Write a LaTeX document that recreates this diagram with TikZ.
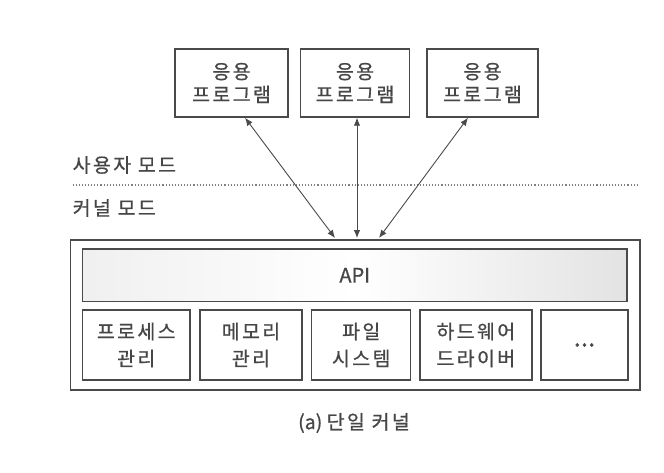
\documentclass[tikz,border=0pt]{standalone}
\usepackage{fontspec}
\setmainfont{Noto Sans CJK KR}[FakeBold=0.8]
\newfontfamily\kfont{Noto Sans CJK KR}[LetterSpace=12, FakeBold=0.8]
\usetikzlibrary{arrows.meta}
\definecolor{linegray}{HTML}{4A4A4A}
\definecolor{textgray}{HTML}{464646}
\begin{document}
\begin{tikzpicture}[x=1pt, y=-1pt,
    appbox/.style={draw=linegray, line width=1.4pt, minimum width=#1, minimum height=68pt,
      inner sep=0pt, align=center, text=textgray, font=\kfont\fontsize{19.5}{23}\selectfont},
    modbox/.style={draw=linegray, line width=1.4pt, minimum width=#1, minimum height=70pt,
      inner sep=0pt, align=center, text=textgray, font=\kfont\fontsize{19.5}{27}\selectfont},
    modelabel/.style={anchor=west, inner sep=0pt, text=textgray, font=\kfont\fontsize{19.5}{20}\selectfont},
    dblarrow/.style={draw=linegray, line width=.9pt, {Latex[length=8pt,width=6.5pt]}-{Latex[length=8pt,width=6.5pt]}}]
  \useasboundingbox (0,0) rectangle (664,472);

  %% application programs
  \node[appbox=113pt] (app1) at (231.5,83) {응용\\프로그램};
  \node[appbox=109pt] (app2) at (355,83) {응용\\프로그램};
  \node[appbox=111pt] (app3) at (482.5,83) {응용\\프로그램};

  %% mode boundary
  \node[modelabel] (user) at (72.5,165) {사용자 모드};
  \node[modelabel] (kmode) at (72.5,208) {커널 모드};
  \draw[linegray!70, line width=1.1pt, dotted] (72.5,185) to (637,185);

  %% kernel
  \node[draw=linegray, line width=1.6pt, minimum width=569.5pt, minimum height=150pt, inner sep=0pt]
    (kernel) at (355.25,315) {};
  \node[draw=linegray, line width=1.4pt, left color=gray!12, right color=gray!22, middle color=white,
    minimum width=544.5pt, minimum height=52.5pt, inner sep=0pt, text=textgray,
    font=\fontsize{20}{22}\selectfont] (api) at (354.75,275.25) {API};

    \node[modbox=107.5pt] (proc) at (136.25,345) {프로세스\\관리};
    \node[modbox=102pt] (mem) at (251,345) {메모리\\관리};
    \node[modbox=99pt] (fs) at (361.25,345) {파일\\시스템};
    \node[modbox=112pt] (hw) at (475.85,345) {하드웨어\\드라이버};
    \node[modbox=87pt, font=\fontsize{26}{20}\selectfont] (etc) at (584.5,345) {...};

  %% system calls
  \coordinate (k1) at (335,238);
  \coordinate (k2) at (357,238);
  \coordinate (k3) at (379,238);
  \draw[dblarrow] ([xshift=13.5pt]app1.south) to (k1);
  \draw[dblarrow] ([xshift=2pt]app2.south) to (k2);
  \draw[dblarrow] ([xshift=-14.5pt]app3.south) to (k3);

  \node[text=textgray, font=\fontsize{19.5}{20}\selectfont] (cap) at (354,423) {(a) {\kfont 단일 커널}};
\end{tikzpicture}
\end{document}
